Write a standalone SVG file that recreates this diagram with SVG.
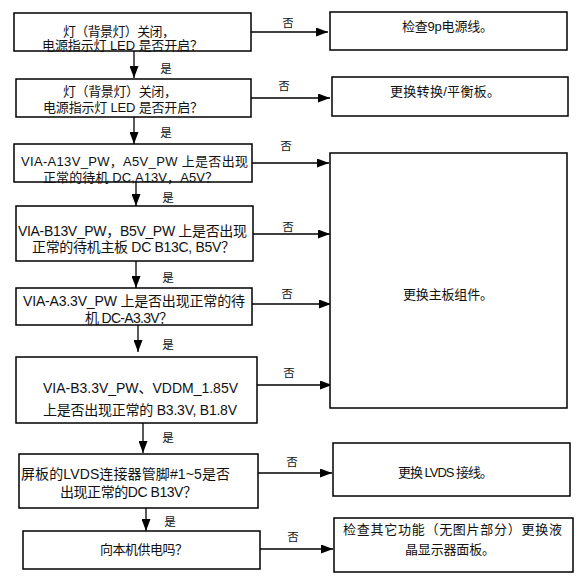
<svg xmlns="http://www.w3.org/2000/svg" width="578" height="581" viewBox="0 0 578 581">
<defs>
<style>
.box{fill:#fff;stroke:#000;stroke-width:1.5}
.t{font-family:"Liberation Sans","Noto Sans CJK SC",sans-serif;font-size:13px;fill:#111;text-anchor:middle}
.t14{font-size:14px}
.lbl{font-family:"Noto Sans CJK SC","Liberation Sans",sans-serif;font-size:11.5px;fill:#111;text-anchor:middle}
.ln{fill:none;stroke:#000;stroke-width:1.3}
</style>
<marker id="ah" markerUnits="userSpaceOnUse" markerWidth="12" markerHeight="9" refX="12" refY="4.5" orient="auto">
<path d="M0,0 L12,4.5 L0,9 Z" fill="#000"/>
</marker>
</defs>
<rect width="578" height="581" fill="#fff"/>

<g id="connectors">
<line class="ln" x1="134" y1="51" x2="134" y2="78" marker-end="url(#ah)"/>
<line class="ln" x1="134" y1="117" x2="134" y2="144" marker-end="url(#ah)"/>
<line class="ln" x1="136" y1="182" x2="136" y2="206" marker-end="url(#ah)"/>
<line class="ln" x1="136" y1="261" x2="136" y2="288" marker-end="url(#ah)"/>
<line class="ln" x1="138" y1="325" x2="138" y2="352" marker-end="url(#ah)"/>
<line class="ln" x1="143" y1="423" x2="143" y2="453" marker-end="url(#ah)"/>
<line class="ln" x1="146" y1="508" x2="146" y2="531" marker-end="url(#ah)"/>
<line class="ln" x1="251" y1="32" x2="328" y2="32" marker-end="url(#ah)"/>
<line class="ln" x1="251" y1="98" x2="330" y2="98" marker-end="url(#ah)"/>
<line class="ln" x1="252" y1="163" x2="329" y2="163" marker-end="url(#ah)"/>
<line class="ln" x1="253" y1="234" x2="330" y2="234" marker-end="url(#ah)"/>
<line class="ln" x1="252" y1="304" x2="331" y2="304" marker-end="url(#ah)"/>
<line class="ln" x1="257" y1="385" x2="332" y2="385" marker-end="url(#ah)"/>
<line class="ln" x1="258" y1="473" x2="332" y2="473" marker-end="url(#ah)"/>
<line class="ln" x1="260" y1="549" x2="333" y2="549" marker-end="url(#ah)"/>
<text class="lbl" x="166" y="73">是</text>
<text class="lbl" x="166" y="137">是</text>
<text class="lbl" x="168" y="202">是</text>
<text class="lbl" x="168" y="282">是</text>
<text class="lbl" x="168" y="349">是</text>
<text class="lbl" x="168" y="442">是</text>
<text class="lbl" x="170" y="526">是</text>
<text class="lbl" x="288" y="27">否</text>
<text class="lbl" x="284" y="90">否</text>
<text class="lbl" x="286" y="150">否</text>
<text class="lbl" x="288" y="231">否</text>
<text class="lbl" x="287" y="298">否</text>
<text class="lbl" x="289" y="377">否</text>
<text class="lbl" x="292" y="466">否</text>
<text class="lbl" x="293" y="541">否</text>
</g>

<g id="n1">
<rect class="box" x="14" y="13" width="237" height="38"/>
<text class="t" x="119" y="36" textLength="112">灯（背景灯）关闭，</text>
<text class="t" x="122.5" y="50" textLength="161">电源指示灯 LED 是否开启？</text>
</g>
<g id="n2">
<rect class="box" x="16" y="79" width="235" height="38"/>
<text class="t" x="120" y="96" textLength="114">灯（背景灯）关闭，</text>
<text class="t" x="123" y="112" textLength="160">电源指示灯 LED 是否开启？</text>
</g>
<g id="n3">
<rect class="box" x="14" y="144" width="238" height="38"/>
<text class="t" x="134.5" y="166" textLength="227">VIA-A13V_PW，A5V_PW 上是否出现</text>
<text class="t" x="130.5" y="182" textLength="175">正常的待机 DC,A13V，A5V？</text>
</g>
<g id="n4">
<rect class="box" x="16" y="206" width="237" height="55"/>
<text class="t t14" x="132.5" y="236" textLength="229">VIA-B13V_PW，B5V_PW 上是否出现</text>
<text class="t t14" x="133.5" y="252" textLength="203">正常的待机主板 DC B13C, B5V？</text>
</g>
<g id="n5">
<rect class="box" x="16" y="288" width="236" height="37"/>
<text class="t t14" x="134" y="306" textLength="222">VIA-A3.3V_PW 上是否出现正常的待</text>
<text class="t t14" x="129" y="323" textLength="88">机 DC-A3.3V？</text>
</g>
<g id="n6">
<rect class="box" x="16" y="357" width="241" height="66"/>
<text class="t t14" x="140.5" y="393" textLength="195">VIA-B3.3V_PW、VDDM_1.85V</text>
<text class="t t14" x="140" y="415" textLength="194">上是否出现正常的 B3.3V, B1.8V</text>
</g>
<g id="n7">
<rect class="box" x="19" y="454" width="239" height="54"/>
<text class="t t14" x="125.5" y="479" textLength="209">屏板的LVDS连接器管脚#1~5是否</text>
<text class="t t14" x="128.5" y="497" textLength="137">出现正常的DC B13V？</text>
</g>
<g id="n8">
<rect class="box" x="23" y="531" width="237" height="38"/>
<text class="t" x="144" y="554" textLength="88">向本机供电吗？</text>
</g>
<g id="r1">
<rect class="box" x="330" y="12" width="237" height="38"/>
<text class="t" x="447.5" y="31" textLength="91">检查9p电源线。</text>
</g>
<g id="r2">
<rect class="box" x="332" y="77" width="236" height="39"/>
<text class="t" x="445" y="96" textLength="110">更换转换/平衡板。</text>
</g>
<g id="r3">
<rect class="box" x="330" y="153" width="237" height="255"/>
<text class="t" x="448" y="299" textLength="90">更换主板组件。</text>
</g>
<g id="r4">
<rect class="box" x="333" y="443" width="237" height="53"/>
<text class="t" x="445.5" y="477" textLength="95">更换 LVDS 接线。</text>
</g>
<g id="r5">
<rect class="box" x="334" y="518" width="239" height="54"/>
<text class="t" x="452.5" y="534" textLength="219">检查其它功能（无图片部分）更换液</text>
<text class="t" x="450" y="554" textLength="90">晶显示器面板。</text>
</g>
</svg>
